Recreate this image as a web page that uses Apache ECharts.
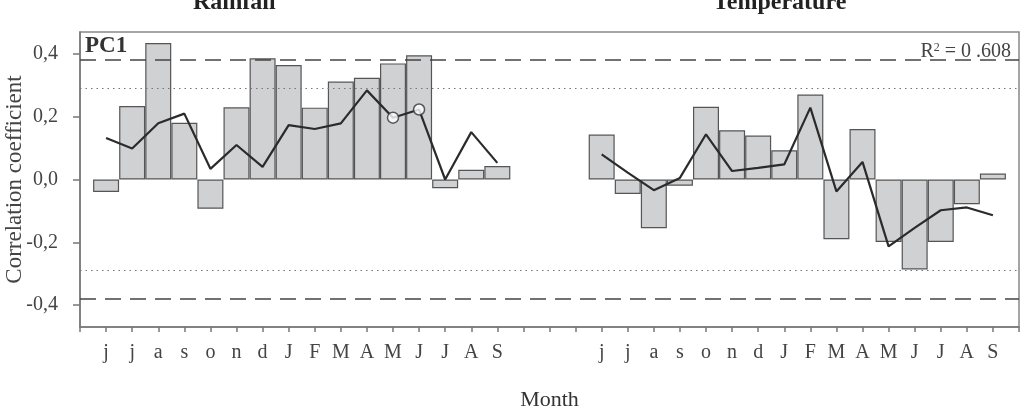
<!DOCTYPE html>
<html>
<head>
<meta charset="utf-8">
<script src="https://cdn.jsdelivr.net/npm/echarts@6/dist/echarts.min.js"></script>
<style>
  html, body { margin: 0; padding: 0; background: #fff; }
  #chart { width: 1021px; height: 408px; }
</style>
</head>
<body>
<div id="chart"></div>
<script>
// month labels (same sequence for both panels)
const months = ['j', 'j', 'a', 's', 'o', 'n', 'd', 'J', 'F', 'M', 'A', 'M', 'J', 'J', 'A', 'S'];

// rainfall panel
const rainBars = [-0.040, 0.234, 0.435, 0.181, -0.093, 0.230, 0.386, 0.365, 0.229, 0.312, 0.324, 0.370, 0.396, -0.028, 0.031, 0.043];
const rainLine = [0.132, 0.099, 0.179, 0.210, 0.034, 0.110, 0.040, 0.173, 0.161, 0.179, 0.284, 0.197, 0.223, 0.000, 0.151, 0.053];
const rainLineMarked = [false, false, false, false, false, false, false, false, false, false, false, true, true, false, false, false];

// temperature panel
const tempBars = [0.143, -0.046, -0.155, -0.020, 0.232, 0.157, 0.140, 0.093, 0.271, -0.190, 0.161, -0.199, -0.287, -0.199, -0.079, 0.019];
const tempLine = [0.080, 0.022, -0.034, 0.005, 0.144, 0.027, 0.037, 0.048, 0.229, -0.038, 0.056, -0.213, -0.154, -0.098, -0.089, -0.114];

const yTicks = [-0.4, -0.2, 0, 0.2, 0.4];
const dashedLimit = 0.375;
const dottedLimit = 0.29;

// one empty slot before, three between the panels, one after
const pad = n => new Array(n).fill(null);
const categories = [''].concat(months, ['', '', ''], months, ['']);
const barData = pad(1).concat(rainBars, pad(3), tempBars, pad(1));
const lineData = pad(1).concat(rainLine, pad(3), tempLine, pad(1));
const markData = pad(1).concat(rainLine.map((v, i) => rainLineMarked[i] ? v : null), pad(3), pad(months.length), pad(1));

const serif = '"Liberation Serif", "DejaVu Serif", serif';
const chart = echarts.init(document.getElementById('chart'));

chart.setOption({
    animation: false,
    backgroundColor: '#fff',
    textStyle: { fontFamily: serif },
    grid: {
        left: 80, right: 2, top: 32, bottom: 81,
        outerBoundsMode: 'none',
        containLabel: false,
        show: true, borderColor: '#888', borderWidth: 1.5
    },
    xAxis: {
        type: 'category',
        data: categories,
        boundaryGap: false,
        name: 'Month',
        nameLocation: 'middle',
        nameGap: 62,
        nameTextStyle: { fontFamily: serif, fontSize: 22, color: '#333' },
        axisLine: { onZero: false, lineStyle: { color: '#777', width: 1.5 } },
        axisTick: { interval: 0, length: 5, lineStyle: { color: '#777', width: 1.5 } },
        axisLabel: { interval: 0, margin: 16, fontFamily: serif, fontSize: 20, color: '#444' },
        splitLine: { show: false }
    },
    yAxis: {
        type: 'value',
        min: -0.47,
        max: 0.47,
        name: 'Correlation coefficient',
        nameLocation: 'middle',
        nameGap: 54,
        nameMoveOverlap: false,
        nameTextStyle: { fontFamily: serif, fontSize: 23, color: '#444' },
        axisLine: { show: true, lineStyle: { color: '#777', width: 1.5 } },
        axisTick: { show: true, customValues: yTicks, length: 7, lineStyle: { color: '#777', width: 1.5 } },
        axisLabel: {
            customValues: yTicks,
            margin: 22,
            fontFamily: serif, fontSize: 20, color: '#444',
            formatter: v => v.toFixed(1).replace('.', ',')
        },
        splitLine: { show: false }
    },
    series: [
        {
            type: 'bar',
            data: barData,
            barWidth: 26,
            itemStyle: { color: '#d0d1d3', borderColor: '#555', borderWidth: 1.2 },
            z: 2
        },
        {
            type: 'line',
            data: lineData,
            symbol: 'none',
            connectNulls: false,
            lineStyle: { color: '#2b2b2b', width: 2.2 },
            z: 4,
            markLine: {
                silent: true,
                symbol: 'none',
                label: { show: false },
                data: [
                    { yAxis: dashedLimit, lineStyle: { type: [16, 9], color: '#444', width: 1.5 } },
                    { yAxis: -dashedLimit, lineStyle: { type: [16, 9], color: '#444', width: 1.5 } },
                    { yAxis: dottedLimit, lineStyle: { type: [1.5, 4], color: '#777', width: 1.2 } },
                    { yAxis: -dottedLimit, lineStyle: { type: [1.5, 4], color: '#777', width: 1.2 } }
                ]
            }
        },
        {
            type: 'scatter',
            data: markData,
            symbol: 'circle',
            symbolSize: 11,
            itemStyle: { color: '#fff', borderColor: '#333', borderWidth: 1.5 },
            z: 5
        }
    ],
    graphic: [
        { type: 'text', left: 193, top: -9, style: { text: 'Rainfall', font: 'bold 24px ' + serif, fill: '#222' } },
        { type: 'text', left: 713, top: -9, style: { text: 'Temperature', font: 'bold 24px ' + serif, fill: '#222' } },
        { type: 'text', left: 85, top: 35, style: { text: 'PC1', font: 'bold 23px ' + serif, fill: '#333' } },
        {
            type: 'text', right: 10, top: 42,
            style: {
                text: 'R{sup|2} = 0 .608',
                font: '20px ' + serif, fill: '#444',
                rich: { sup: { fontSize: 12, verticalAlign: 'top', padding: [0, 0, 8, 0], fill: '#444', fontFamily: serif } }
            }
        }
    ]
});
</script>
</body>
</html>
